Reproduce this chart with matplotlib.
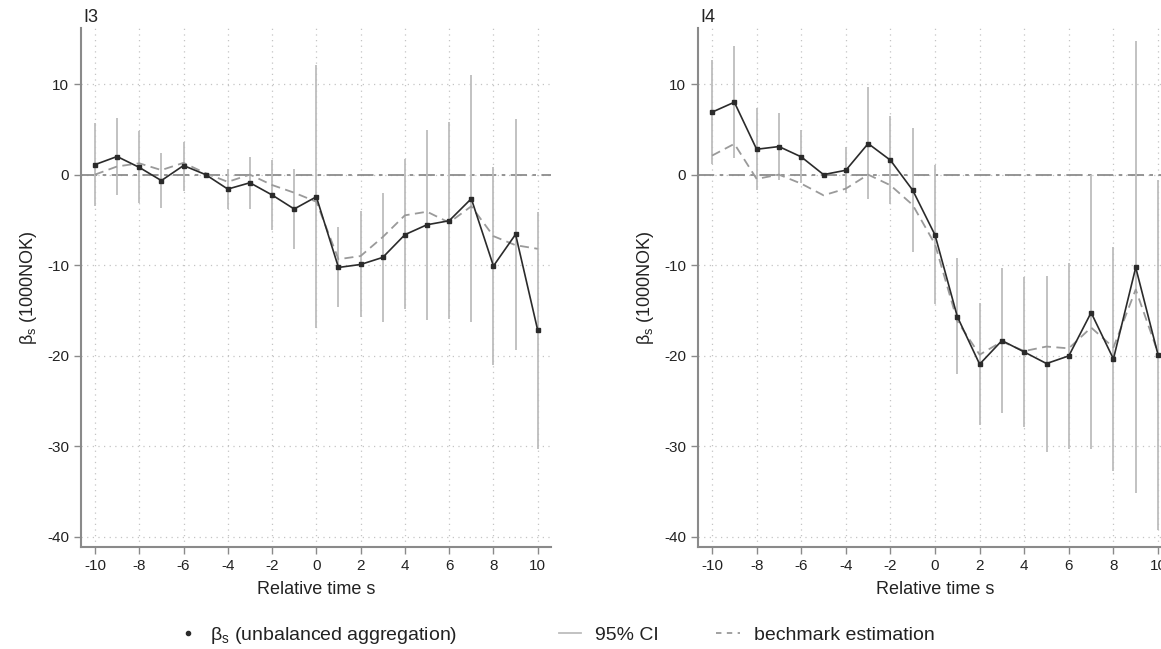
import numpy as np
import matplotlib.pyplot as plt
from matplotlib.lines import Line2D

plt.rcParams['font.family'] = ['Liberation Sans', 'DejaVu Sans']
plt.rcParams['axes.unicode_minus'] = False

# -------------------------
# Data
# -------------------------
s = np.arange(-10, 11)

# I3
i3_beta = [1.1, 2.0, 0.8, -0.66, 1.0, 0.0, -1.6, -0.9, -2.25, -3.8, -2.45,
           -10.26, -9.93, -9.15, -6.64, -5.54, -5.1, -2.66, -10.1, -6.6, -17.2]
i3_hi = [5.7, 6.2, 4.8, 2.4, 3.65, 0.0, 0.6, 1.96, 1.6, 0.66, 12.1,
         -5.8, -4.06, -2.03, 1.7, 4.95, 5.8, 11.0, 0.85, 6.16, -4.1]
i3_lo = [-3.47, -2.2, -3.1, -3.7, -1.8, 0.0, -3.77, -3.8, -6.1, -8.2, -16.9,
         -14.65, -15.7, -16.3, -14.9, -16.05, -15.98, -16.3, -21.0, -19.4, -30.3]
i3_bench = [0.0, 0.9, 1.25, 0.5, 1.3, 0.15, -0.8, 0.0, -1.15, -2.0, -3.0,
            -9.35, -9.0, -6.9, -4.5, -4.1, -5.3, -3.5, -6.8, -7.8, -8.2]

# I4
i4_beta = [6.9, 8.0, 2.8, 3.1, 1.96, 0.0, 0.48, 3.43, 1.59, -1.73, -6.68,
           -15.7, -20.95, -18.34, -19.6, -20.88, -20.03, -15.25, -20.37, -10.26, -19.9]
i4_hi = [12.66, 14.25, 7.35, 6.8, 4.9, 0.0, 3.1, 9.67, 6.5, 5.17, 1.07,
         -9.2, -14.14, -10.37, -11.3, -11.15, -9.8, 0.0, -8.0, 14.76, -0.6]
i4_lo = [1.22, 1.8, -1.7, -0.55, -0.92, 0.0, -2.07, -2.73, -3.25, -8.52, -14.3,
         -22.06, -27.66, -26.3, -27.84, -30.68, -30.35, -30.35, -32.7, -35.2, -39.3]
i4_bench = [2.1, 3.4, -0.48, 0.0, -1.0, -2.29, -1.55, 0.0, -1.18, -3.36, -7.7,
            -16.2, -19.9, -18.45, -19.5, -19.0, -19.2, -16.9, -19.1, -12.7, -19.7]

panels = [("I3", i3_beta, i3_lo, i3_hi, i3_bench),
          ("I4", i4_beta, i4_lo, i4_hi, i4_bench)]

# -------------------------
# Plotting
# -------------------------
W, H = 1161, 649
fig = plt.figure(figsize=(W / 100, H / 100), dpi=100)
bottom = 1 - 547 / H
height = (547 - 28) / H
axes = [fig.add_axes([81 / W, bottom, 470 / W, height]),
        fig.add_axes([698 / W, bottom, 473.4 / W, height])]

spine_c = '#8a8a8a'
text_c = '#222222'
for ax, (name, beta, lo, hi, bench) in zip(axes, panels):
    beta = np.array(beta)
    lo = np.array(lo)
    hi = np.array(hi)
    ax.set_xlim(-10.63, 10.6)
    ax.set_ylim(-41.15, 16.2)
    ax.set_xticks(np.arange(-10, 11, 2))
    ax.set_yticks([10, 0, -10, -20, -30, -40])
    ax.grid(True, which='major', linestyle=(0, (1, 3.5)), color='#c4c4c4', lw=0.9)
    ax.set_axisbelow(True)
    ax.axhline(0, color='#8c8c8c', lw=1.3, ls=(0, (9, 3, 2, 3)), zorder=1)

    # CI bars (reference period has no interval)
    mask = hi > lo
    ax.vlines(s[mask], lo[mask], hi[mask], color='#bdbdbd', lw=1.3, zorder=2)
    ax.plot(s, bench, color='#9a9a9a', ls=(0, (5, 3)), lw=1.3, zorder=3)
    ax.plot(s, beta, color='#2b2b2b', lw=1.2, marker='s', ms=2.2, zorder=4)

    for sp in ['top', 'right']:
        ax.spines[sp].set_visible(False)
    for sp in ['left', 'bottom']:
        ax.spines[sp].set_color(spine_c)
        ax.spines[sp].set_linewidth(1.5)
    ax.tick_params(colors=spine_c, labelcolor=text_c, labelsize=11, length=5, width=1)
    ax.set_xlabel("Relative time s", fontsize=13, color=text_c, labelpad=6)
    ax.set_ylabel(r"β$_\mathregular{s}$ (1000NOK)", fontsize=13, color=text_c, labelpad=6)
    ax.set_title(name, loc='left', fontsize=13, pad=4, x=0.005, color=text_c)

# legend: three single-entry legends placed along the bottom
leg_y = 14 / H
entries = [
    (Line2D([], [], ls='none', marker='o', ms=3, color='#2b2b2b'),
     r"β$_\mathregular{s}$ (unbalanced aggregation)", 180, 0.8),
    (Line2D([], [], color='#bdbdbd', lw=1.3), "95% CI", 559, 1.13),
    (Line2D([], [], color='#9a9a9a', lw=1.3, ls=(0, (3, 3))), "bechmark estimation", 716, 1.25),
]
for h, lab, x0, hl in entries:
    lg = fig.legend([h], [lab], loc='center left', bbox_to_anchor=(x0 / W, leg_y),
                    frameon=False, fontsize=14, borderpad=0, borderaxespad=0,
                    handlelength=hl, handletextpad=0.72)
    for t in lg.get_texts():
        t.set_color(text_c)

fig.savefig("out.png", dpi=100)
